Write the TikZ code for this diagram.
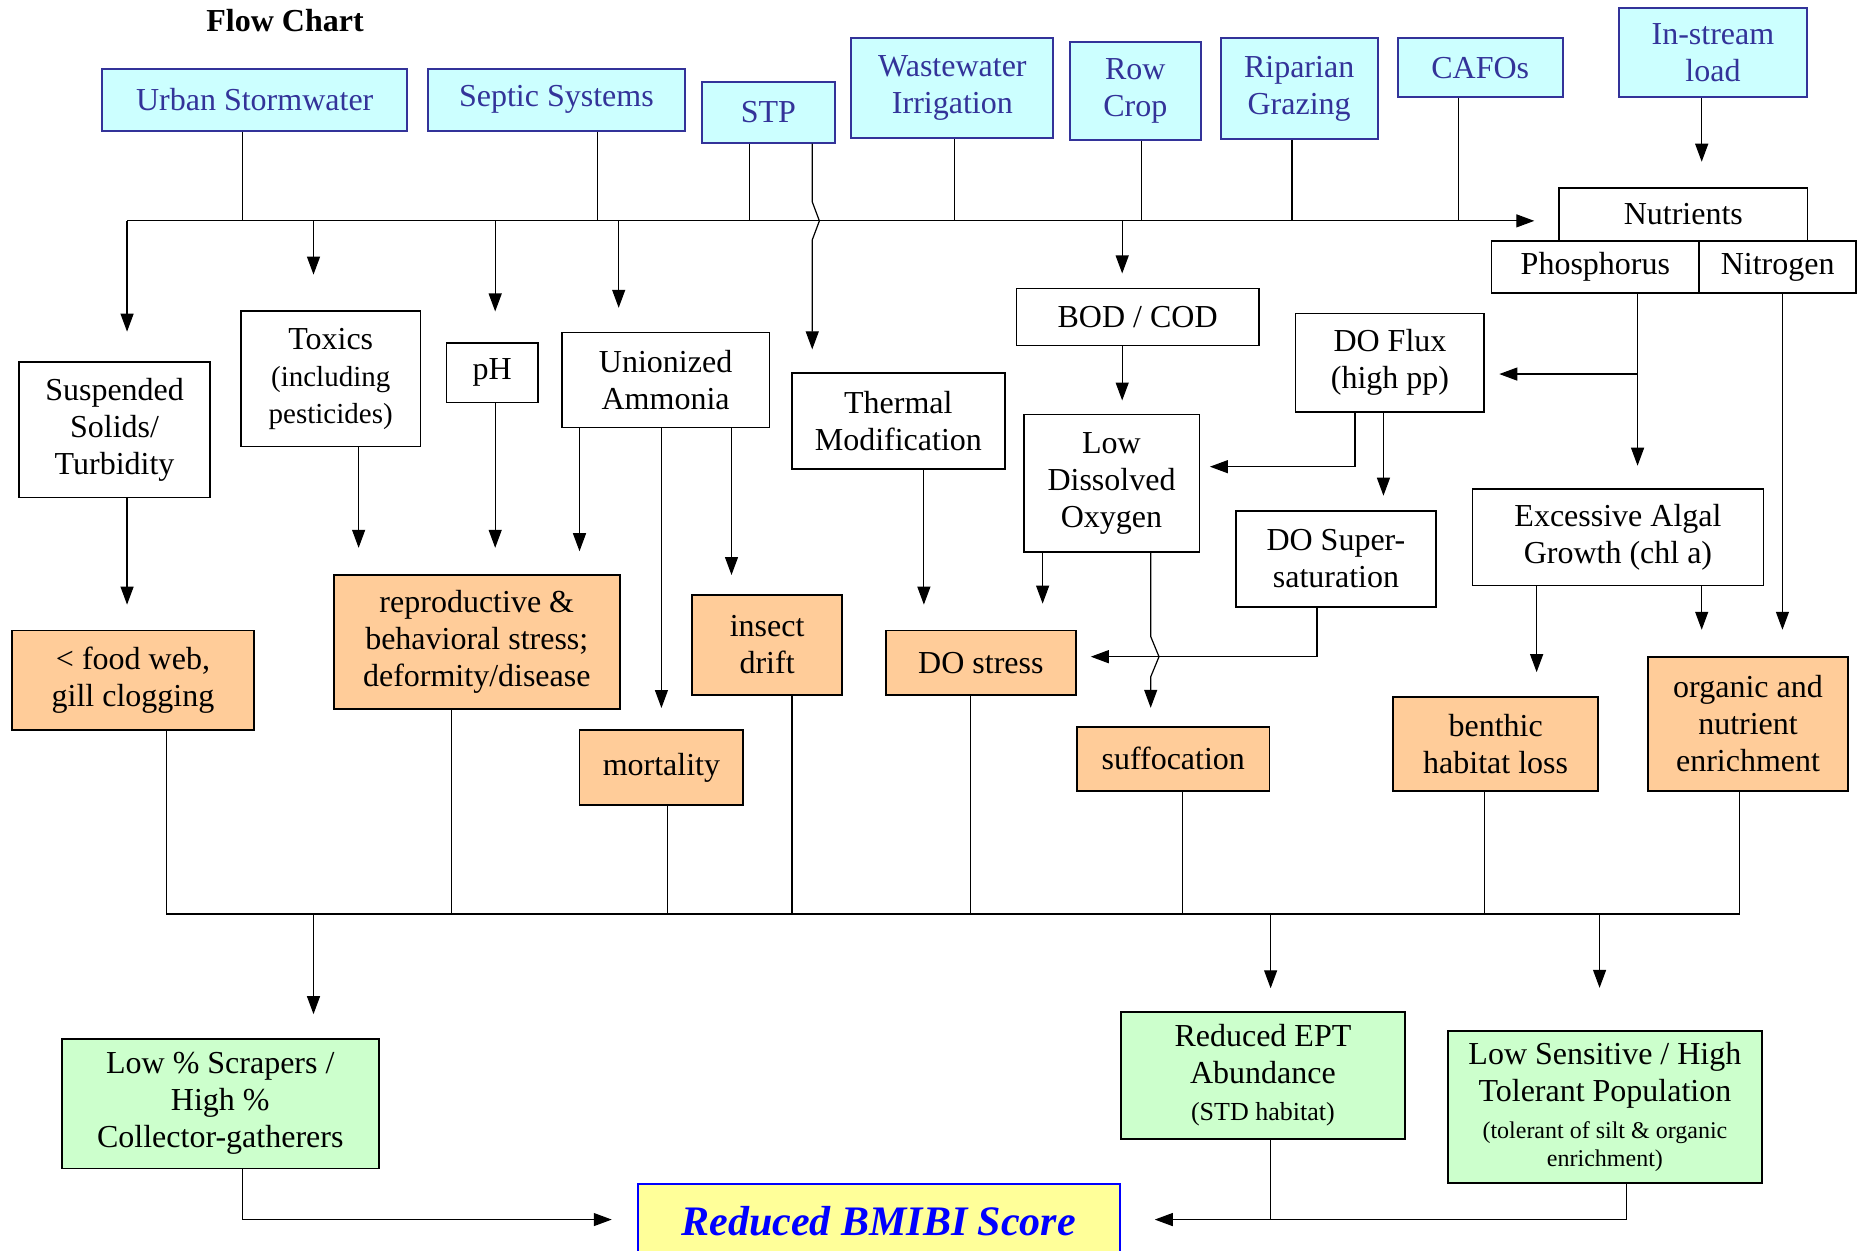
\documentclass[tikz,border=0pt]{standalone}
\usepackage{fontspec}
\setmainfont{Liberation Serif}
\usetikzlibrary{arrows.meta}
\definecolor{srcfill}{HTML}{CCFFFF}
\definecolor{srcline}{HTML}{333399}
\definecolor{efffill}{HTML}{FFCC99}
\definecolor{resfill}{HTML}{CCFFCC}
\definecolor{scorefill}{HTML}{FFFF99}
\definecolor{scoreblue}{HTML}{0000FF}
\newcommand\smtext{\fontsize{12}{13.7}\selectfont}

\begin{document}
\begin{tikzpicture}[x=0.59375pt,y=-0.59375pt,
  every node/.style={font=\fontsize{16}{18.5}\selectfont,align=center,inner sep=0pt},
  src/.style={draw=srcline,fill=srcfill,text=srcline,line width=1pt},
  box/.style={draw,line width=0.9pt},
  eff/.style={box,fill=efffill},
  res/.style={box,fill=resfill},
  score/.style={draw=scoreblue,fill=scorefill,text=scoreblue,line width=1pt,
    font=\fontsize{21}{24}\selectfont\bfseries\itshape},
  ln/.style={line width=0.6pt},
  arr/.style={ln,-{Triangle[length=9pt,width=6.5pt]}},
  bus/.style={line width=1pt}]
\path[use as bounding box] (0,0) rectangle (1568,1053);
\node[font=\fontsize{16}{18.5}\selectfont\bfseries] (title) at (240,17) {Flow Chart};
\node[src,minimum width=152.6pt,minimum height=30.9pt] (urban) at (214.5,84) {Urban Stormwater};
\node[src,minimum width=128.8pt,minimum height=30.9pt] (septic) at (468.5,84) {Septic Systems};
\node[src,minimum width=66.5pt,minimum height=30.3pt] (stp) at (647,94.5) {STP};
\node[src,minimum width=100.9pt,minimum height=49.9pt] (waste) at (802,74) {Wastewater\\Irrigation};
\node[src,minimum width=65.3pt,minimum height=49.3pt] (row) at (956,76.5) {Row\\Crop};
\node[src,minimum width=78.4pt,minimum height=50.5pt] (ripar) at (1094,74.5) {Riparian\\Grazing};
\node[src,minimum width=82.5pt,minimum height=29.7pt] (cafo) at (1246.5,57) {CAFOs};
\node[src,minimum width=94.4pt,minimum height=44.5pt] (instream) at (1442.5,44.5) {In-stream\\load};
\node[box,minimum width=95.6pt,minimum height=67.7pt] (susp) at (96.5,362) {Suspended\\Solids/\\Turbidity};
\node[box,minimum width=89.7pt,minimum height=67.7pt] (toxic) at (278.5,319) {Toxics\\\fontsize{14.5}{18.5}\selectfont(including\\\fontsize{14.5}{18.5}\selectfont pesticides)};
\node[box,minimum width=45.7pt,minimum height=29.7pt] (ph) at (414.5,314) {pH};
\node[box,minimum width=103.9pt,minimum height=47.5pt] (unam) at (560.5,320) {Unionized\\Ammonia};
\node[box,minimum width=106.3pt,minimum height=48.1pt] (therm) at (756.5,354.5) {Thermal\\Modification};
\node[box,minimum width=121.1pt,minimum height=28.5pt] (bod) at (958,267) {BOD / COD};
\node[box,minimum width=87.9pt,minimum height=68.9pt] (lowdo) at (936,407) {Low\\Dissolved\\Oxygen};
\node[box,minimum width=94.4pt,minimum height=49.3pt] (doflux) at (1170.5,305.5) {DO Flux\\(high pp)};
\node[box,minimum width=99.8pt,minimum height=48.1pt] (dosup) at (1125,470.5) {DO Super-\\saturation};
\node[box,minimum width=124.1pt,minimum height=26.7pt] (nutr) at (1417.5,180.5) {Nutrients};
\node[box,minimum width=103.9pt,minimum height=26.1pt] (phos) at (1343.5,225) {Phosphorus};
\node[box,minimum width=78.4pt,minimum height=26.1pt] (nitro) at (1497,225) {Nitrogen};
\node[box,minimum width=145.5pt,minimum height=48.1pt] (algae) at (1362.5,452.5) {Excessive Algal\\Growth (chl a)};
\node[eff,minimum width=121.1pt,minimum height=49.9pt] (food) at (112,573) {< food web,\\gill clogging};
\node[eff,minimum width=143.1pt,minimum height=67.1pt] (repro) at (401.5,540.5) {reproductive \&\\behavioral stress;\\deformity/disease};
\node[eff,minimum width=74.8pt,minimum height=49.9pt] (drift) at (646,543) {insect\\drift};
\node[eff,minimum width=81.9pt,minimum height=37.4pt] (mort) at (557,646.5) {mortality};
\node[eff,minimum width=95pt,minimum height=32.1pt] (dostr) at (826,558) {DO stress};
\node[eff,minimum width=96.2pt,minimum height=32.1pt] (suff) at (988,639) {suffocation};
\node[eff,minimum width=102.7pt,minimum height=46.9pt] (benth) at (1259.5,626.5) {benthic\\habitat loss};
\node[eff,minimum width=99.8pt,minimum height=67.1pt] (orgn) at (1472,609.5) {organic and\\nutrient\\enrichment};
\node[res,minimum width=158.5pt,minimum height=64.7pt] (scrap) at (185.5,929.5) {Low \% Scrapers /\\High \%\\Collector-gatherers};
\node[res,minimum width=141.9pt,minimum height=63.5pt] (ept) at (1063.5,905.5) {Reduced EPT\\Abundance\\\fontsize{13}{16}\selectfont(STD habitat)};
\node[res,minimum width=157.3pt,minimum height=76pt] (sens) at (1351.5,932) {Low Sensitive / High\\Tolerant Population\\\smtext(tolerant of silt \& organic\\[-4.5pt]\smtext enrichment)};
\node[score,minimum width=241pt,minimum height=37pt] (bmibi) at (740,1028) {Reduced BMIBI Score};
\coordinate (busW) at (107,186);
\coordinate (lowW) at (140,770);
\coordinate (lowE) at (1465,770);
\coordinate (pbr) at (1379,315);
\coordinate (endln) at (0,1027);
\draw[ln] (urban.south -| 204,0) -- (busW -| 204,0);
\draw[ln] (septic.south -| 503,0) -- (busW -| 503,0);
\draw[ln] (stp.south -| 631,0) -- (busW -| 631,0);
\draw[ln] (waste.south -| 804,0) -- (busW -| 804,0);
\draw[ln] (row.south -| 961,0) -- (busW -| 961,0);
\draw[ln] (ripar.south -| 1088,0) -- (busW -| 1088,0);
\draw[ln] (cafo.south -| 1228,0) -- (busW -| 1228,0);
\draw[arr,shorten >=12.5pt] (instream.south -| 1433,0) -- (nutr.north -| 1433,0);
\draw[bus,arr,shorten >=12pt] (busW) -- (busW -| nutr.west);
\draw[arr,shorten >=11.3pt] (stp.south -| 684,0) -- (684,170) -- (690,186) -- (684,202) -- (therm.north -| 684,0);
\draw[arr,shorten >=14.8pt] (busW) -- (busW |- susp.north);
\draw[arr,shorten >=17.8pt] (busW -| 264,0) -- (toxic.north -| 264,0);
\draw[arr,shorten >=15.4pt] (busW -| 417,0) -- (ph.north -| 417,0);
\draw[arr,shorten >=11.9pt] (busW -| 521,0) -- (unam.north -| 521,0);
\draw[arr,shorten >=7.1pt] (busW -| 945,0) -- (bod.north -| 945,0);
\draw[arr,shorten >=12.5pt] (susp.south -| 107,0) -- (food.north -| 107,0);
\draw[arr,shorten >=13pt] (toxic.south -| 302,0) -- (repro.north -| 302,0);
\draw[arr,shorten >=13pt] (ph.south -| 417,0) -- (repro.north -| 417,0);
\draw[arr,shorten >=11.3pt] (unam.south -| 488,0) -- (repro.north -| 488,0);
\draw[arr,shorten >=10.7pt] (unam.south -| 557,0) -- (mort.north -| 557,0);
\draw[arr,shorten >=9.5pt] (unam.south -| 616,0) -- (drift.north -| 616,0);
\draw[arr,shorten >=12.5pt] (therm.south -| 778,0) -- (dostr.north -| 778,0);
\draw[arr,shorten >=6.5pt] (bod.south -| 945,0) -- (lowdo.north -| 945,0);
\draw[arr,shorten >=4.8pt] (doflux.south -| 1141,0) |- (lowdo.east |- 0,393);
\draw[arr,shorten >=7pt] (doflux.south -| 1165,0) -- (dosup.north -| 1165,0);
\draw[arr,shorten >=13pt] (lowdo.south -| 878,0) -- (dostr.north -| 878,0);
\draw[arr,shorten >=9pt] (lowdo.south -| 969,0) -- (969,536) -- (976,553) -- (969,570) -- (suff.north -| 969,0);
\draw[arr,shorten >=7pt] (dosup.south -| 1109,0) |- (dostr.east |- 0,553);
\draw[arr,shorten >=11.3pt] (phos.south -| 1379,0) -- (algae.north -| 1379,0);
\draw[arr,shorten >=7pt] (pbr) -- (doflux.east |- pbr);
\draw[arr,shorten >=13pt] (nitro.south -| 1501,0) -- (orgn.north -| 1501,0);
\draw[arr,shorten >=12pt] (algae.south -| 1294,0) -- (benth.north -| 1294,0);
\draw[arr,shorten >=13pt] (algae.south -| 1433,0) -- (orgn.north -| 1433,0);
\draw[bus] (lowW) -- (lowE);
\draw[ln] (food.south -| 140,0) -- (lowW);
\draw[ln] (repro.south -| 380,0) -- (lowW -| 380,0);
\draw[ln] (mort.south -| 562,0) -- (lowW -| 562,0);
\draw[ln] (drift.south -| 667,0) -- (lowW -| 667,0);
\draw[ln] (dostr.south -| 817,0) -- (lowW -| 817,0);
\draw[ln] (suff.south -| 996,0) -- (lowW -| 996,0);
\draw[ln] (benth.south -| 1250,0) -- (lowW -| 1250,0);
\draw[ln] (orgn.south -| 1465,0) -- (lowE);
\draw[arr,shorten >=12pt] (lowW -| 264,0) -- (scrap.north -| 264,0);
\draw[arr,shorten >=11.3pt] (lowW -| 1070,0) -- (ept.north -| 1070,0);
\draw[arr,shorten >=21pt] (lowW -| 1347,0) -- (sens.north -| 1347,0);
\draw[arr,shorten >=12.5pt] (scrap.south -| 204,0) |- (bmibi.west |- endln);
\draw[arr,shorten >=17pt] (sens.south -| 1370,0) |- (bmibi.east |- endln);
\draw[ln] (ept.south -| 1070,0) -- (endln -| 1070,0);
\end{tikzpicture}
\end{document}
